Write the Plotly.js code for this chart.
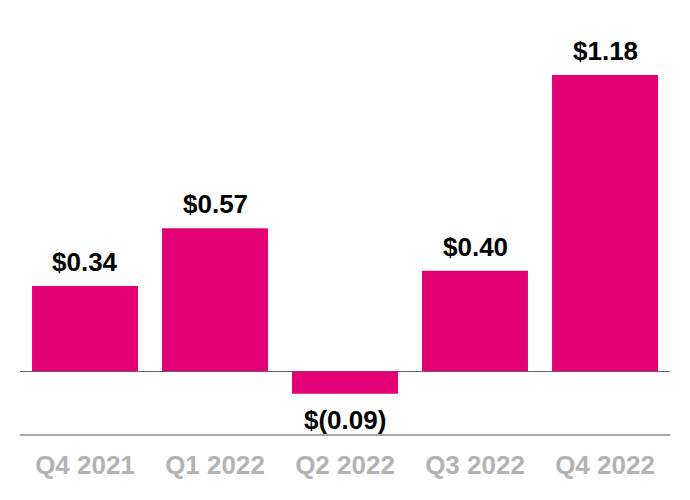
<!DOCTYPE html>
<html>
<head>
<meta charset="utf-8">
<script src="https://cdn.plot.ly/plotly-3.0.1.min.js"></script>
<style>html,body{margin:0;padding:0;background:#fff;}#chart{width:690px;height:500px;}</style>
</head>
<body>
<div id="chart"></div>
<script>
const categories = ["Q4 2021", "Q1 2022", "Q2 2022", "Q3 2022", "Q4 2022"];
const values = [0.34, 0.57, -0.09, 0.40, 1.18];
const labels = ["$0.34", "$0.57", "$(0.09)", "$0.40", "$1.18"];

const magenta = "#E20074";
const fontFam = "Liberation Sans, Arial, sans-serif";

const annotations = categories.map((c, i) => ({
  x: c, y: values[i], xref: "x", yref: "y",
  text: labels[i], showarrow: false,
  yanchor: values[i] >= 0 ? "bottom" : "top",
  yshift: values[i] >= 0 ? 7 : -9,
  font: {family: fontFam, size: 26, color: "#000000", weight: "bold"}
}));

const trace = {
  type: "bar", x: categories, y: values,
  marker: {color: magenta, line: {width: 0}},
  hoverinfo: "none"
};

const layout = {
  width: 690, height: 500,
  margin: {l: 20, r: 20, t: 45, b: 66, pad: 0},
  paper_bgcolor: "#ffffff", plot_bgcolor: "#ffffff",
  bargap: 0.185,
  showlegend: false,
  xaxis: {
    type: "category", showline: true, linecolor: "#A6A6A6", linewidth: 2,
    ticks: "", showgrid: false, zeroline: false,
    tickfont: {family: fontFam, size: 26, color: "#B3B3B3", weight: "bold"},
    ticklabelstandoff: 7
  },
  yaxis: {
    range: [-0.25, 1.3], showgrid: false, showticklabels: false, ticks: "",
    zeroline: true, zerolinecolor: "#666666", zerolinewidth: 1.5, showline: false
  },
  annotations: annotations
};

Plotly.newPlot("chart", [trace], layout, {displayModeBar: false, staticPlot: true});
</script>
</body>
</html>
